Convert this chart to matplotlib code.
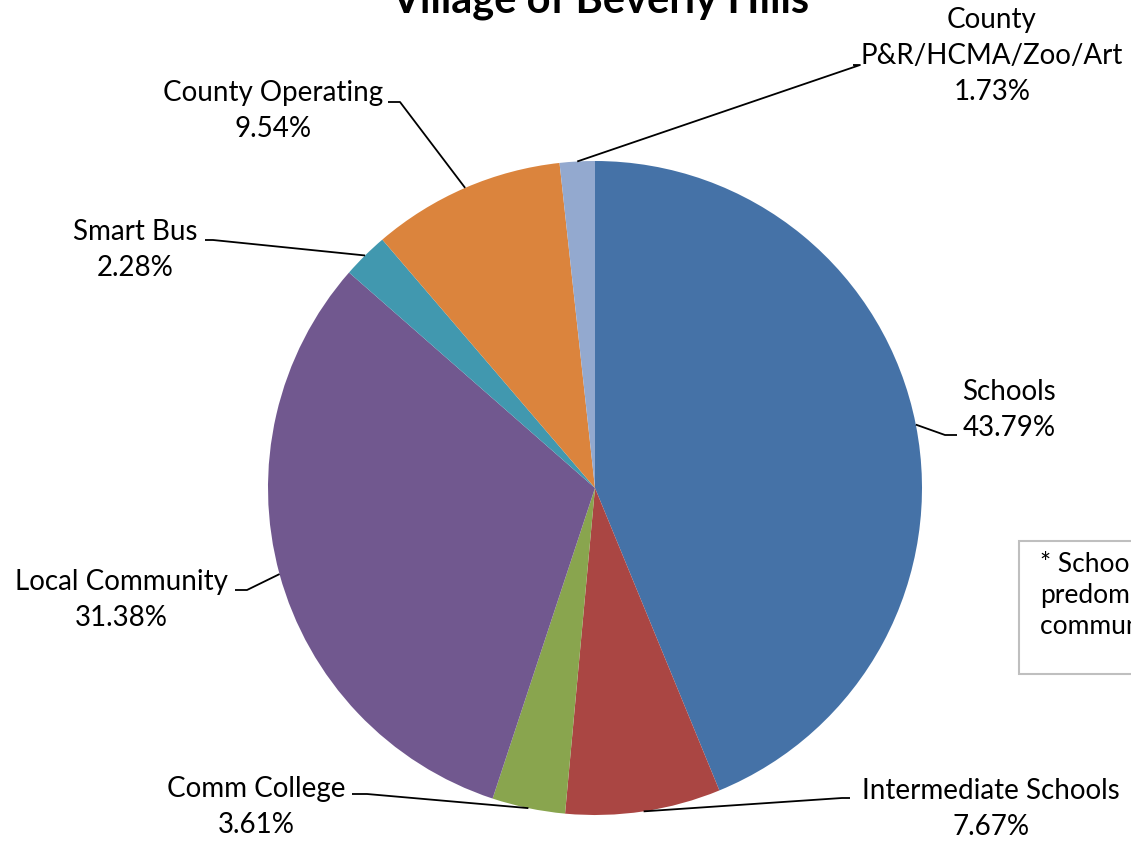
import numpy as np
import matplotlib.pyplot as plt
from matplotlib.patches import Rectangle

labels = ["Schools", "Intermediate Schools", "Comm College", "Local Community",
          "Smart Bus", "County Operating", "County\nP&R/HCMA/Zoo/Art"]
values = [43.79, 7.67, 3.61, 31.38, 2.28, 9.54, 1.73]
colors = ["#4572A7", "#AA4643", "#89A54E", "#71588F", "#4198AF", "#DB843D", "#93A9CF"]

# label layout in pixels (top-left origin): text centre, elbow, stub end
text_pos = [(1009, 410), (991, 809), (256, 807), (121, 600), (135, 250), (273, 111), (992, 56)]
elbows = [(945, 435), (842, 798), (367, 794), (247, 590), (213, 240), (400, 102), (860, 65)]
stubs = [(957, 435), (850, 798), (352, 794), (235, 590), (205, 240), (388, 102), (853, 65)]

W, H = 1131, 843
CX, CY, R = 595, 488, 327

plt.rcParams['font.family'] = ['Lato', 'DejaVu Sans']

fig = plt.figure(figsize=(W / 100, H / 100), dpi=100)
ax = fig.add_axes([0, 0, 1, 1])


def px(p):
    return ((p[0] - CX) / R, (CY - p[1]) / R)


wedges, _ = ax.pie(values, colors=colors, startangle=90, counterclock=False,
                   radius=1, center=(0, 0), frame=True,
                   wedgeprops=dict(linewidth=0))
ax.set_xlim(-CX / R, (W - CX) / R)
ax.set_ylim(-(H - CY) / R, CY / R)
ax.axis('off')

for w, lab, v, tp, el, st in zip(wedges, labels, values, text_pos, elbows, stubs):
    mid = np.deg2rad((w.theta1 + w.theta2) / 2)
    edge = (np.cos(mid), np.sin(mid))
    e, s = px(el), px(st)
    ax.plot([edge[0], e[0], s[0]], [edge[1], e[1], s[1]], color='black', lw=1.3,
            solid_capstyle='butt')
    t = px(tp)
    ax.text(t[0], t[1], f"{lab}\n{v:.2f}%", ha='center', va='center',
            fontsize=20, linespacing=1.48, color='black')

tt = px((600, 12))
ax.text(tt[0], tt[1], "Village of Beverly Hills", ha='center', va='baseline',
        fontsize=30, fontweight='bold')

bx0, by0 = px((1019, 674))
bx1, by1 = px((1140, 541))
ax.add_patch(Rectangle((bx0, by0), bx1 - bx0, by1 - by0, facecolor='white',
                       edgecolor='#BFBFBF', lw=1.5, clip_on=False))
bt = px((1040, 552))
ax.text(bt[0], bt[1], "* Schools are\npredominantly\ncommunity based", ha='left', va='top',
        fontsize=19, linespacing=1.3)

fig.savefig("out.png", dpi=100)
